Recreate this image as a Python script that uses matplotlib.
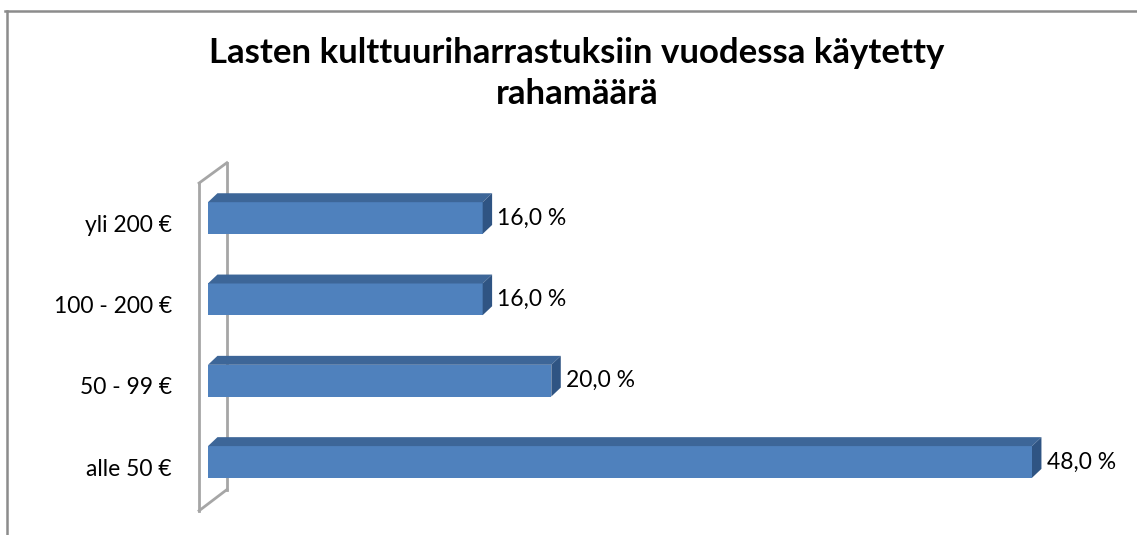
import numpy as np
import matplotlib.pyplot as plt
from matplotlib.patches import Polygon
from matplotlib.lines import Line2D

categories = ["alle 50 €", "50 - 99 €", "100 - 200 €", "yli 200 €"]
values = [48.0, 20.0, 16.0, 16.0]
value_labels = ["48,0 %", "20,0 %", "16,0 %", "16,0 %"]
title_lines = ["Lasten kulttuuriharrastuksiin vuodessa käytetty", "rahamäärä"]

plt.rcParams['font.family'] = ['Lato', 'DejaVu Sans']

W, H = 1137, 535
fig = plt.figure(figsize=(W / 100, H / 100), dpi=100)

# plot area: 0..48 % across px 208..1032
ax = fig.add_axes([208 / W, (H - 527) / H, 824 / W, (527 - 153) / H])
ax.set_xlim(0, 48)
ax.set_ylim(-0.8, 3.8)
ax.axis('off')

front_c = '#4f81bd'
top_c = '#3d6698'
side_c = '#2f5483'
wall_c = '#a6a6a6'

hh = 0.195   # half bar height
dx = 0.55    # 3d depth in x
dy = 0.11    # 3d depth in y

# side wall of the 3d chart
ax.plot([1.1, 1.1], [-0.34, 3.68], color=wall_c, lw=2, clip_on=False, zorder=1)
ax.plot([-0.52, -0.52], [-0.60, 3.43], color=wall_c, lw=2, clip_on=False, zorder=1)
ax.plot([-0.52, 1.1], [3.43, 3.68], color=wall_c, lw=2, clip_on=False, zorder=1)
ax.plot([-0.52, 1.1], [-0.60, -0.34], color=wall_c, lw=2, clip_on=False, zorder=1)

ypos = np.arange(len(categories))
for y, v, lab, cat in zip(ypos, values, value_labels, categories):
    ax.add_patch(Polygon([(0, y - hh), (v, y - hh), (v, y + hh), (0, y + hh)],
                         closed=True, fc=front_c, ec='none', zorder=3, clip_on=False))
    ax.add_patch(Polygon([(0, y + hh), (v, y + hh), (v + dx, y + hh + dy), (dx, y + hh + dy)],
                         closed=True, fc=top_c, ec='none', zorder=3, clip_on=False))
    ax.add_patch(Polygon([(v, y - hh), (v + dx, y - hh + dy), (v + dx, y + hh + dy), (v, y + hh)],
                         closed=True, fc=side_c, ec='none', zorder=3, clip_on=False))
    ax.text(v + dx + 0.3, y, lab, ha='left', va='center', fontsize=16.5, color='black')
    ax.text(-2.1, y - 0.09, cat, ha='right', va='center', fontsize=16.5, color='black')

# two-line title, placed by baseline
for line, base_px in zip(title_lines, [63, 104]):
    fig.text(577 / W, 1 - base_px / H, line, ha='center', va='baseline', fontsize=25,
             fontweight='bold')

# chart frame (only top and left visible)
fig.add_artist(Line2D([5 / W, 1], [1 - 10.5 / H, 1 - 10.5 / H], color='#8c8c8c', lw=1.8))
fig.add_artist(Line2D([6.5 / W, 6.5 / W], [0, 1 - 10.5 / H], color='#8c8c8c', lw=1.8))

fig.savefig('out.png', dpi=100)
